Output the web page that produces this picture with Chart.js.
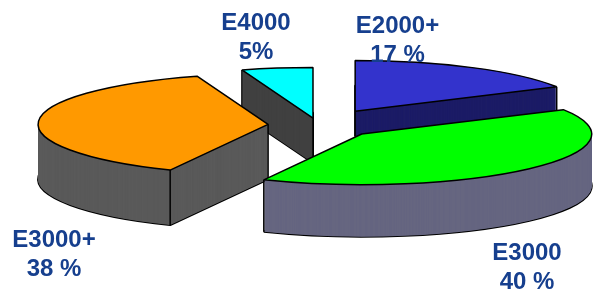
<!DOCTYPE html>
<html><head><meta charset="utf-8">
<script src="https://cdn.jsdelivr.net/npm/chart.js@4.4.1/dist/chart.umd.min.js"></script>
<style>html,body{margin:0;padding:0;background:#fff;overflow:hidden}#wrap{width:595px;height:291px;position:relative}</style>
</head><body><div id="wrap"><canvas id="c" width="595" height="291"></canvas></div>
<script>
// ---- data ----
const categories = ['E2000+', 'E3000', 'E3000+', 'E4000'];
const values = [17, 40, 38, 5];
const valueSuffix = [' %', ' %', ' %', '%'];

// ---- styles ----
const topColors = ['#3333CC', '#00FF00', '#FF9900', '#00FFFF'];
const sideColors = ['#1C1C66', '#666680', '#5A5A5A', '#414141'];
const explode = [73, 60, 50, 32];
const depth = [25, 52, 55, 45];
const tilt = 0.22;
const wallOrder = [3, 0, 2, 1];
const labelAnchor = [[397.5, 33], [527, 260], [54, 247], [256, 29.5]];
const labelColor = '#163F8E';
const labelFont = "bold 24px 'Liberation Sans', Arial, sans-serif";

const nativeStroke = CanvasRenderingContext2D.prototype.stroke;
function flatStroke() {
  this.save();
  this.setTransform(1, 0, 0, 1, 0, 0);
  nativeStroke.apply(this, arguments);
  this.restore();
}

function patch(chart) {
  const meta = chart.getDatasetMeta(0);
  meta.data.forEach((el, i) => {
    if (el._p3d) return;
    const proto = Object.getPrototypeOf(el).draw;
    el.draw = function (ctx) {
      const mid = (this.startAngle + this.endAngle) / 2;
      ctx.save();
      ctx.translate(0, this.y); ctx.scale(1, tilt); ctx.translate(0, -this.y);
      ctx.translate(Math.cos(mid) * explode[i], Math.sin(mid) * explode[i]);
      ctx.stroke = flatStroke;
      proto.call(this, ctx);
      delete ctx.stroke;
      ctx.restore();
    };
    el._p3d = true;
  });
}

const pie3d = {
  id: 'pie3d',
  beforeDatasetsDraw(chart) {
    patch(chart);
    const ctx = chart.ctx;
    const meta = chart.getDatasetMeta(0);
    wallOrder.forEach(i => {
      const el = meta.data[i];
      const saved = el.options;
      const over = o => new Proxy({}, { get: (t, p) => (p in o ? o[p] : saved[p]) });
      const D = depth[i];
      ctx.save(); ctx.translate(0, D);
      el.options = over({ backgroundColor: sideColors[i], borderColor: '#000', borderWidth: 2 });
      el.draw(ctx);
      ctx.restore();
      el.options = over({ backgroundColor: sideColors[i], borderWidth: 0 });
      for (let d = D; d > 0; d -= 0.5) {
        ctx.save(); ctx.translate(0, d); el.draw(ctx); ctx.restore();
      }
      el.options = saved;
      // vertical edges
      const s = el.startAngle, e = el.endAngle, mid = (s + e) / 2, R = el.outerRadius;
      const tx = el.x + Math.cos(mid) * explode[i], ty = el.y + Math.sin(mid) * explode[i] * tilt;
      const startVis = Math.cos(s) < -1e-9, endVis = Math.cos(e) > 1e-9;
      const pts = [];
      if (startVis || endVis) pts.push([tx, ty]);
      if (startVis || Math.sin(s) > 0) pts.push([tx + R * Math.cos(s), ty + R * Math.sin(s) * tilt]);
      if (endVis || Math.sin(e) > 0) pts.push([tx + R * Math.cos(e), ty + R * Math.sin(e) * tilt]);
      ctx.save();
      ctx.strokeStyle = '#000'; ctx.lineWidth = 1.5;
      pts.forEach(p => { ctx.beginPath(); ctx.moveTo(p[0], p[1]); ctx.lineTo(p[0], p[1] + D); ctx.stroke(); });
      ctx.restore();
    });
  },
  afterDraw(chart) {
    const ctx = chart.ctx;
    ctx.save();
    ctx.font = labelFont; ctx.fillStyle = labelColor;
    ctx.textAlign = 'center'; ctx.textBaseline = 'alphabetic';
    categories.forEach((c, i) => {
      const [x, y] = labelAnchor[i];
      ctx.fillText(c, x, y);
      ctx.fillText(values[i] + valueSuffix[i], x, y + 29);
    });
    ctx.restore();
  }
};

new Chart(document.getElementById('c'), {
  type: 'pie',
  data: {
    labels: categories,
    datasets: [{
      data: values,
      backgroundColor: topColors,
      borderColor: '#000',
      borderWidth: 1.5,
      clip: false
    }]
  },
  options: {
    responsive: false,
    animation: false,
    events: [],
    radius: 230,
    layout: { padding: { left: 41, right: 0, top: 0, bottom: 41 } },
    plugins: { legend: { display: false }, tooltip: { enabled: false }, title: { display: false } }
  },
  plugins: [pie3d]
});
</script></body></html>
